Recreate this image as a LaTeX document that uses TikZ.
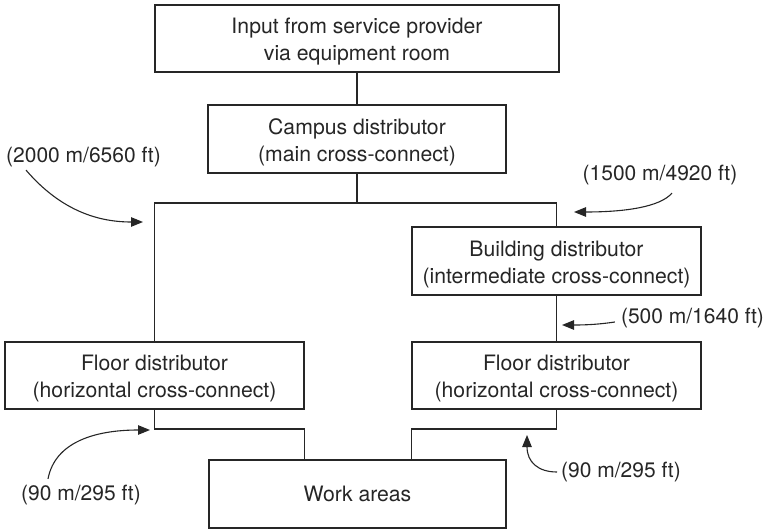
\documentclass[tikz,border=0pt]{standalone}
\usepackage{fontspec}
\setmainfont{TeX Gyre Heros}
\usetikzlibrary{arrows.meta}
\newcommand\bxstrut{\rule{0pt}{21.5pt}}
\begin{document}
\begin{tikzpicture}[x=1pt,y=-1pt,
  box/.style={draw=black!85, line width=1.1pt, minimum width=#1, minimum height=67pt,
    inner sep=0pt, align=center, text=black!85, font=\fontsize{21.2}{27}\selectfont},
  lbl/.style={inner sep=0pt, text=black!85, font=\fontsize{21}{27}\selectfont},
  link/.style={draw=black!85, line width=1.1pt},
  arr/.style={draw=black!85, line width=1.1pt, -{Triangle[length=12pt,width=9.5pt]}}]
\useasboundingbox (0,0) rectangle (773,529);

\node[box=404pt] (top) at (357,38.5) {\bxstrut Input from service provider\\via equipment room};
\node[box=298pt, minimum height=68pt] (campus) at (357,139) {\bxstrut Campus distributor\\(main cross-connect)};
\node[box=289pt, minimum height=68pt] (bldg) at (556.5,261) {\bxstrut Building distributor\\(intermediate cross-connect)};
\node[box=299pt] (floorL) at (154.5,375.5) {\bxstrut Floor distributor\\(horizontal cross-connect)};
\node[box=289pt] (floorR) at (556.5,375.5) {\bxstrut Floor distributor\\(horizontal cross-connect)};
\node[box=297pt, minimum height=68pt] (work) at (357.5,494) {Work areas};

\coordinate (J) at (357,203);
\coordinate (hL) at (0,429);

\draw[link] (top.south) -- (campus.north);
\draw[link] (campus.south) -- (J);
\draw[link] (floorL.north) |- (J) -| (bldg.north);
\draw[link] (bldg.south) -- (floorR.north);
\draw[link] (floorL.south) -- (floorL.south |- hL) -| (floorL.east |- work.north);
\draw[link] (floorR.south) -- (floorR.south |- hL) -| (floorR.west |- work.north);

\node[lbl] (l1) at (83.5,157) {(2000 m/6560 ft)};
\node[lbl] (l2) at (660,175) {(1500 m/4920 ft)};
\node[lbl] (l3) at (692.5,318) {(500 m/1640 ft)};
\node[lbl] (l4) at (81,495) {(90 m/295 ft)};
\node[lbl, anchor=west] (l5) at (561,472) {(90 m/295 ft)};

\coordinate (t1) at (143,222);
\coordinate (t2) at (574,212);
\coordinate (t3) at (562,325);
\coordinate (t4) at (150,430);
\coordinate (t5) at (527,435);

\draw[arr] ([shift={(20,3)}]l1.south west) .. controls (62,212) and (100,222) .. (t1);
\draw[arr] ([shift={(12,8)}]l2.south) .. controls (660,207) and (625,212) .. (t2);
\draw[arr] ([shift={(-6,4)}]l3.west) .. controls (595,325) and (580,325) .. (t3);
\draw[arr] ([shift={(27,-6)}]l4.north west) .. controls (55,442) and (95,430) .. (t4);
\draw[arr] ([shift={(-4,0)}]l5.west) .. controls (538,472) and (527,462) .. (t5);
\end{tikzpicture}
\end{document}
